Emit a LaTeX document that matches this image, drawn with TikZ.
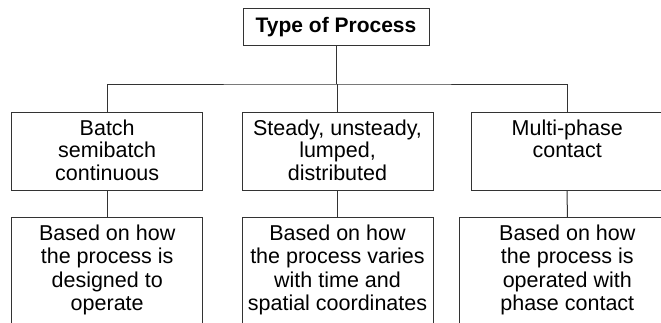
\documentclass[tikz,border=0pt]{standalone}
\usepackage{fontspec}
\setmainfont{Liberation Sans}
\newcommand{\cell}[3]{\parbox[c][#1][t]{#2}{\centering\rule{0pt}{22.5pt}#3}}

\begin{document}
\begin{tikzpicture}[x=1pt, y=1pt,
  boxed/.style={draw=black!80, line width=1pt, inner sep=0pt},
  head/.style={boxed, minimum width=186pt, minimum height=37.5pt, font=\bfseries\fontsize{21}{24}\selectfont},
  kind/.style={boxed, font=\fontsize{21.5}{22.6}\selectfont},
  basis/.style={boxed, anchor=north, font=\fontsize{21.5}{23.5}\selectfont},
  link/.style={draw=black!80, line width=1pt}]
\useasboundingbox (0,0) rectangle (661,-322);
\clip (0,0) rectangle (661,-322);
\draw (336, -27) node (title) [head] {Type of Process};
\draw (107.2, -151.6) node (batch) [kind] {\cell{78pt}{191pt}{Batch\\ semibatch\\ continuous}};
\draw (337.5, -151.6) node (steady) [kind] {\cell{78pt}{191pt}{Steady, unsteady,\\ lumped,\\ distributed}};
\draw (567.2, -151.6) node (multi) [kind] {\cell{78pt}{191pt}{Multi-phase\\ contact}};
\draw (107.2, -217) node (design) [basis] {\cell{120pt}{191pt}{Based on how\\ the process is\\ designed to\\ operate}};
\draw (337.5, -217) node (vary) [basis] {\cell{120pt}{191pt}{Based on how\\ the process varies\\ with time and\\ spatial coordinates}};
\draw (567.3, -217) node (phase) [basis] {\cell{120pt}{216pt}{Based on how\\ the process is\\ operated with\\ phase contact}};
\coordinate (bus) at (337.5, -84);
% tree lines
\draw [link] (title.south) -- (title.south |- bus);
\draw [link] (batch.north) |- (bus) -| (multi.north);
\draw [link] (bus) -- (steady.north);
\draw [link] (batch) -- (design);
\draw [link] (steady) -- (vary);
\draw [link] (multi) -- (phase);
\end{tikzpicture}
\end{document}
